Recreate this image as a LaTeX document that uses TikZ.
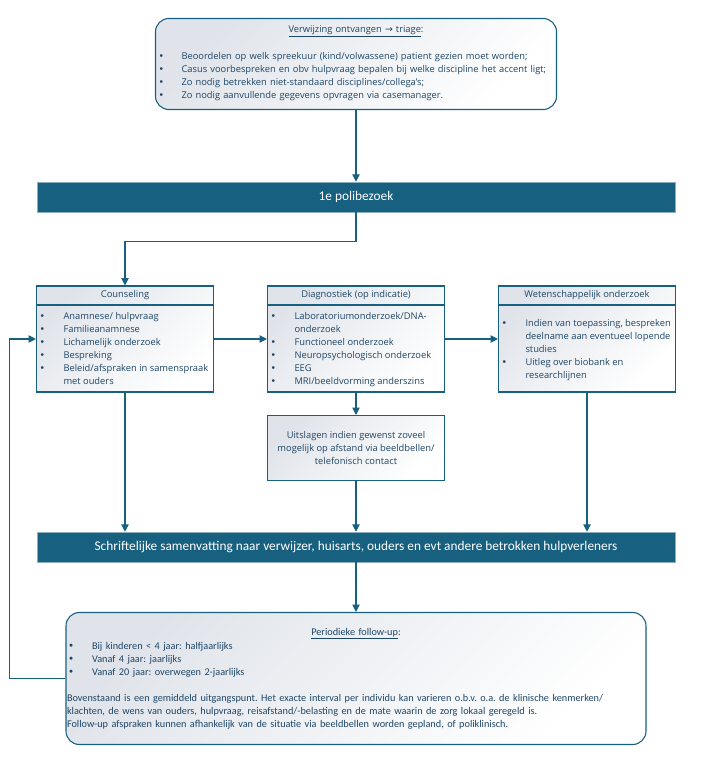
\documentclass[tikz,border=0pt]{standalone}
\usepackage{fontspec}
\setmainfont{Open Sans}
\newfontfamily\calfont{Carlito}
\newfontfamily\arrowfont{DejaVu Sans}
\usetikzlibrary{arrows.meta,positioning}
\definecolor{polblue}{RGB}{24,96,128}
\definecolor{txtblue}{RGB}{31,70,102}
\definecolor{fadegrey}{RGB}{224,228,234}
\frenchspacing

\begin{document}
\begin{tikzpicture}[x=0.75pt,y=-0.75pt,->,>={Triangle[length=5.5pt,width=5.5pt]},
    line width=0.8pt,
    link/.style={draw=polblue},
    round box/.style={rectangle,draw=polblue,rounded corners=10pt,
        top color=fadegrey,bottom color=white,shading angle=45,
        align=left,text=txtblue},
    triage box/.style={round box,minimum height=68.25pt,text width=296.25pt,
        inner xsep=2.25pt,font=\fontsize{7}{9.75}\selectfont},
    follow box/.style={round box,minimum height=99pt,text width=433.5pt,
        inner xsep=0.75pt,font=\calfont\fontsize{7.7}{9.75}\selectfont},
    bar node/.style={rectangle,fill=polblue,draw=polblue!50!white,line width=0.4pt,
        minimum width=478.5pt,minimum height=22.5pt,inner sep=0pt,
        text=white,font=\calfont\fontsize{10}{11}\selectfont},
    main node/.style={rectangle,draw=polblue,top color=fadegrey,bottom color=white,
        shading angle=45,minimum width=132.75pt,minimum height=79.5pt,
        inner sep=0pt,text=txtblue,font=\fontsize{7}{9.75}\selectfont},
    head node/.style={rectangle,draw=polblue,minimum width=132.75pt,
        minimum height=14.25pt,inner sep=0pt,anchor=north,
        text=txtblue,font=\fontsize{7}{9.75}\selectfont},
    list node/.style={anchor=north west,inner sep=0pt,
        text=txtblue,font=\fontsize{7}{9.75}\selectfont}]

  \useasboundingbox (0,0) rectangle (705,759);

  \node[triage box] (triage) at (356,64) {%
    {\centering\underline{Verwijzing ontvangen {\arrowfont →} triage}:\par}
    \vspace{9pt}
    \begin{tabular}[t]{@{}p{17.25pt}@{}l@{}}
      {\arrowfont\textbullet} & Beoordelen op welk spreekuur (kind/volwassene) patient gezien moet worden;\\
      {\arrowfont\textbullet} & Casus voorbespreken en obv hulpvraag bepalen bij welke discipline het accent ligt;\\
      {\arrowfont\textbullet} & Zo nodig betrekken niet-standaard disciplines/collega’s;\\
      {\arrowfont\textbullet} & Zo nodig aanvullende gegevens opvragen via casemanager.
    \end{tabular}};

  \node[bar node, below of=triage, node distance=99.75pt] (poli) {1e polibezoek};

  \node[main node, below of=poli, node distance=106.5pt] (diag) {};
  \node[main node, left of=diag, node distance=173.25pt] (couns) {};
  \node[main node, right of=diag, node distance=173.25pt] (wet) {};

  \node[head node] (counsH) at (couns.north) {Counseling};
  \node[head node] (diagH) at (diag.north) {Diagnostiek (op indicatie)};
  \node[head node] (wetH) at (wet.north) {Wetenschappelijk onderzoek};

  \node[list node] (counsL) at ([shift={(3,4.5)}]counsH.south west) {%
    \begin{tabular}[t]{@{}p{18pt}@{}l@{}}
      {\arrowfont\textbullet} & Anamnese/ hulpvraag\\
      {\arrowfont\textbullet} & Familieanamnese\\
      {\arrowfont\textbullet} & Lichamelijk onderzoek\\
      {\arrowfont\textbullet} & Bespreking\\
      {\arrowfont\textbullet} & Beleid/afspraken in samenspraak\\
                  & met ouders
    \end{tabular}};
  \node[list node] (diagL) at ([shift={(3,4.5)}]diagH.south west) {%
    \begin{tabular}[t]{@{}p{18pt}@{}l@{}}
      {\arrowfont\textbullet} & Laboratoriumonderzoek/DNA-\\
                  & onderzoek\\
      {\arrowfont\textbullet} & Functioneel onderzoek\\
      {\arrowfont\textbullet} & Neuropsychologisch onderzoek\\
      {\arrowfont\textbullet} & EEG\\
      {\arrowfont\textbullet} & MRI/beeldvorming anderszins
    \end{tabular}};
  \node[list node] (wetL) at ([shift={(3,11.5)}]wetH.south west) {%
    \begin{tabular}[t]{@{}p{18pt}@{}l@{}}
      {\arrowfont\textbullet} & Indien van toepassing, bespreken\\
                  & deelname aan eventueel lopende\\
                  & studies\\
      {\arrowfont\textbullet} & Uitleg over biobank en\\
                  & researchlijnen
    \end{tabular}};

  \node[main node, minimum height=48.75pt, align=center,
    below of=diag, node distance=81.75pt] (uitsl)
    {Uitslagen indien gewenst zoveel\\mogelijk op afstand via beeldbellen/\\telefonisch contact};

  \node[bar node, below of=uitsl, node distance=74.25pt] (samen)
    {Schriftelijke samenvatting naar verwijzer, huisarts, ouders en evt andere betrokken hulpverleners};

  \node[follow box, below of=samen, node distance=98.625pt] (follow) {%
    {\centering\underline{Periodieke follow-up}:\par}
    \begin{tabular}[t]{@{\hspace{0.75pt}}p{18pt}@{}l@{}}
      {\arrowfont\textbullet} & Bij kinderen < 4 jaar: halfjaarlijks\\
      {\arrowfont\textbullet} & Vanaf 4 jaar: jaarlijks\\
      {\arrowfont\textbullet} & Vanaf 20 jaar: overwegen 2-jaarlijks
    \end{tabular}\par
    \vspace{9.75pt}
    Bovenstaand is een gemiddeld uitgangspunt. Het exacte interval per individu kan varieren o.b.v. o.a. de klinische kenmerken/\\
    klachten, de wens van ouders, hulpvraag, reisafstand/-belasting en de mate waarin de zorg lokaal geregeld is.\\
    Follow-up afspraken kunnen afhankelijk van de situatie via beeldbellen worden gepland, of poliklinisch.};

  % connectors
  \draw[link] (triage.south) -- (poli.north);
  \draw[link] (poli.south) -- ++(0,29) -| (couns.north);
  \draw[link] (couns.east) -- (diag.west);
  \draw[link] (diag.east) -- (wet.west);
  \draw[link] (diag.south) -- (uitsl.north);
  \draw[link] (couns.south) -- (couns.south |- samen.north);
  \draw[link] (uitsl.south) -- (samen.north);
  \draw[link] (wet.south) -- (wet.south |- samen.north);
  \draw[link] (samen.south) -- (follow.north);
  \draw[link] (follow.west) -- ++(-56,0) |- (couns.west);
\end{tikzpicture}
\end{document}
